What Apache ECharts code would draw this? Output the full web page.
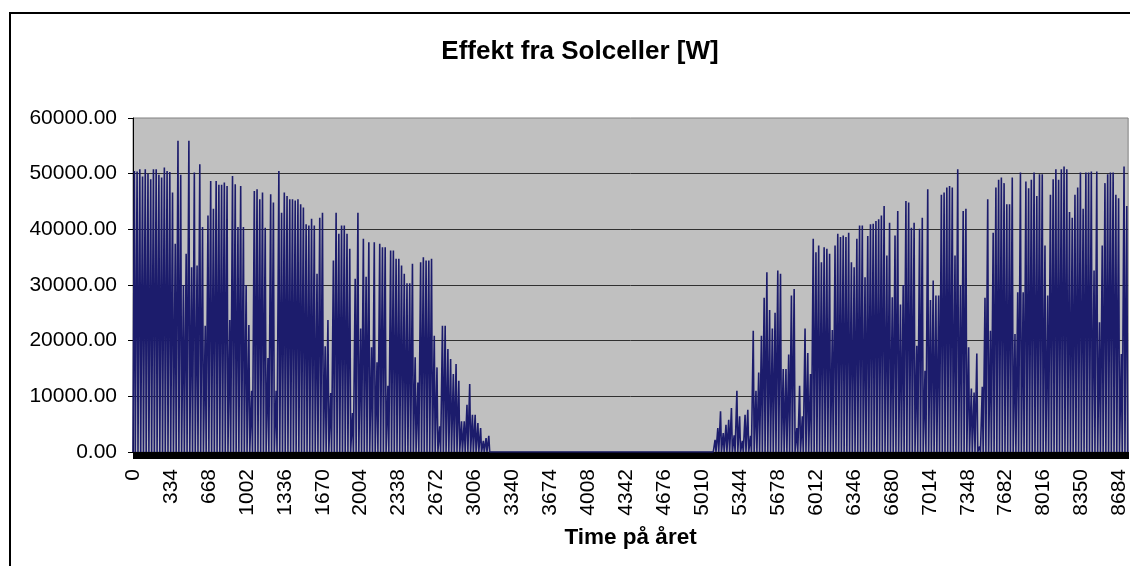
<!DOCTYPE html>
<html>
<head>
<meta charset="utf-8">
<title>Effekt fra Solceller</title>
<script src="https://cdn.jsdelivr.net/npm/echarts@6/dist/echarts.min.js"></script>
<style>
  html, body { margin: 0; padding: 0; background: #fff; }
  #chart { width: 1130px; height: 566px; }
</style>
</head>
<body>
<div id="chart"></div>
<script>
// dagens toppeffekt [W], en verdi per dag (dag 0 .. 364), lest av figuren
const dailyPeak = [
  50500, 50400, 50800, 49500, 50800, 50000, 49000, 50800, 50800, 49800,
  49300, 51100, 50500, 50300, 46600, 37400, 55900, 49800, 30000, 35600,
  55900, 33200, 50200, 33500, 51700, 40400, 22700, 42500, 48700, 43700,
  48700, 48000, 48000, 48400, 47800, 23700, 49600, 48100, 40400, 47800,
  40400, 30000, 22800, 11000, 46900, 47200, 45400, 46600, 40300, 16900,
  46300, 44800, 11000, 50500, 43000, 46600, 46000, 45400, 45400, 45200,
  45400, 44500, 43900, 40900, 40700, 41900, 40700, 32000, 42100, 43000,
  19000, 23700, 10600, 34400, 43000, 39200, 40700, 40700, 39200, 36500,
  7000, 31100, 43000, 22200, 38300, 31500, 37700, 18800, 37700, 16100,
  37400, 36800, 36800, 11900, 36200, 36200, 34700, 34700, 33500, 32000,
  30300, 30300, 33800, 17000, 12500, 34100, 35000, 34400, 34400, 34700,
  20900, 15200, 4600, 22700, 22700, 18500, 16700, 14000, 15800, 12800,
  5500, 5500, 8500, 12200, 6700, 6700, 5200, 4300, 2000, 2500,
  2900, 0, 0, 0, 0, 0, 0, 0, 0, 0,
  0, 0, 0, 0, 0, 0, 0, 0, 0, 0,
  0, 0, 0, 0, 0, 0, 0, 0, 0, 0,
  0, 0, 0, 0, 0, 0, 0, 0, 0, 0,
  0, 0, 0, 0, 0, 0, 0, 0, 0, 0,
  0, 0, 0, 0, 0, 0, 0, 0, 0, 0,
  0, 0, 0, 0, 0, 0, 0, 0, 0, 0,
  0, 0, 0, 0, 0, 0, 0, 0, 0, 0,
  0, 0, 0, 2200, 4300, 7300, 3400, 4900, 5800, 7900,
  3000, 11000, 6400, 2000, 6700, 7600, 2900, 21800, 11000, 14300,
  20900, 27700, 32300, 25500, 22200, 25000, 32600, 32000, 14900, 14900,
  17500, 28100, 29300, 4300, 11900, 6400, 22200, 17800, 14000, 38300,
  35900, 37100, 34100, 36800, 36500, 35600, 21900, 37100, 39200, 38600,
  38900, 38600, 39400, 34100, 33200, 38300, 40700, 40700, 31400, 38800,
  40900, 41000, 41500, 41800, 42500, 44200, 35300, 41200, 27800, 38900,
  43300, 26500, 30000, 45100, 44800, 40300, 41200, 19100, 40100, 42100,
  14600, 47200, 27300, 30800, 28100, 28100, 46200, 46600, 47500, 47800,
  47500, 35300, 50800, 30000, 43300, 43700, 18800, 11400, 10700, 17700,
  1000, 11700, 27700, 45400, 21800, 39400, 47500, 48900, 49300, 48300,
  44500, 44500, 49300, 21200, 28700, 50200, 28700, 48600, 47400, 48900,
  50200, 46000, 49900, 49900, 37100, 28100, 46200, 49000, 50800, 48900,
  50800, 51300, 50800, 43100, 42100, 46200, 47500, 50200, 43700, 50200,
  50200, 50400, 32600, 50400, 23300, 37100, 48300, 49900, 50200, 50200,
  46200, 45600, 17600, 51300, 44200
];

// timer i døgnet: soloppgang, middag, solnedgang
const sunrise = 4;
const noon = 12;
const sunset = 20;
const hoursInYear = 8760;
const tickStep = 334;   // Excel viser hver 334. time
const yMax = 60000;
const yStep = 10000;

const hourly = [[0, 0]];
dailyPeak.forEach(function (peak, d) {
  hourly.push([d * 24 + sunrise, 0]);
  hourly.push([d * 24 + noon, peak]);
  hourly.push([d * 24 + sunset, 0]);
});
hourly.push([hoursInYear, 0]);

const fontFamily = '"Liberation Sans", Arial, sans-serif';
const chart = echarts.init(document.getElementById('chart'));

const option = {
  animation: false,
  backgroundColor: '#fff',
  textStyle: { fontFamily: fontFamily },
  graphic: [{
    type: 'rect',
    shape: { x: 10, y: 13, width: 1200, height: 620 },
    style: { fill: 'none', stroke: '#000', lineWidth: 2 },
    silent: true
  }],
  title: {
    text: 'Effekt fra Solceller [W]',
    left: 575,
    textAlign: 'center',
    top: 34,
    textStyle: { fontSize: 26, fontWeight: 'bold', color: '#000', fontFamily: fontFamily }
  },
  grid: {
    left: 133, right: 1, top: 118, bottom: 114,
    show: true,
    backgroundColor: '#c0c0c0',
    borderColor: '#808080',
    borderWidth: 1
  },
  xAxis: {
    type: 'value',
    min: 0,
    max: hoursInYear,
    interval: tickStep,
    name: 'Time på året',
    nameLocation: 'middle',
    nameGap: 74,
    nameTextStyle: { fontSize: 22.5, fontWeight: 'bold', color: '#000', fontFamily: fontFamily },
    axisLine: { show: true, lineStyle: { color: '#000', width: 1 } },
    axisTick: { show: true, length: 7, lineStyle: { color: '#000' } },
    minorTick: { show: true, splitNumber: 50, length: 7, lineStyle: { color: '#000', width: 1 } },
    splitLine: { show: false },
    axisLabel: {
      rotate: 90,
      margin: 17,
      fontSize: 21,
      color: '#000',
      showMaxLabel: false,
      fontFamily: fontFamily,
      formatter: function (v) { return String(v); }
    }
  },
  yAxis: {
    type: 'value',
    min: 0,
    max: yMax,
    interval: yStep,
    axisLine: { show: true, lineStyle: { color: '#000', width: 1 } },
    axisTick: { show: true, length: 5, lineStyle: { color: '#000' } },
    splitLine: { show: true, showMinLine: false, showMaxLine: false, lineStyle: { color: '#303030', width: 1 } },
    axisLabel: {
      fontSize: 21,
      color: '#000',
      margin: 16,
      fontFamily: fontFamily,
      formatter: function (v) { return v.toFixed(2); }
    }
  },
  series: [{
    name: 'Effekt',
    type: 'line',
    data: hourly,
    symbol: 'none',
    sampling: null,
    lineStyle: { color: '#1c1c6c', width: 1.6 },
    itemStyle: { color: '#1c1c6c' }
  }]
};

chart.setOption(option);
</script>
</body>
</html>
